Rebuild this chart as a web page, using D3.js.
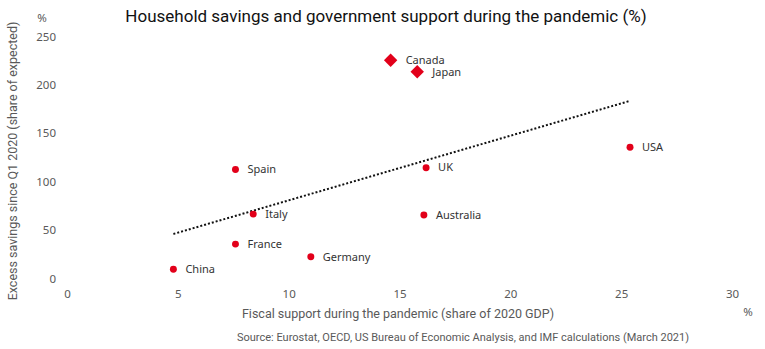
<!DOCTYPE html>
<html>
<head>
<meta charset="utf-8">
<script src="https://cdn.jsdelivr.net/npm/d3@7"></script>
<style>
  body { margin: 0; background: #fff; }
  svg text { font-family: "Noto Sans", "Open Sans", sans-serif; }
</style>
</head>
<body>
<svg id="chart" width="765" height="349"></svg>
<script>
// data
var countries = ['China', 'France', 'Italy', 'Spain', 'Germany', 'UK', 'Australia', 'USA', 'Canada', 'Japan'];
var fiscal = [4.8, 7.6, 8.4, 7.6, 11.0, 16.2, 16.1, 25.4, 14.6, 15.8];
var savings = [9, 35, 66, 112, 22, 114, 65, 135, 225, 213];
var diamonds = ['Canada', 'Japan'];
var trendX = [4.8, 25.4];
var trendY = [45.5, 183];
var xTicks = [0, 5, 10, 15, 20, 25, 30];
var yTicks = [0, 50, 100, 150, 200, 250];

var svg = d3.select('#chart');
var x = d3.scaleLinear().domain([0, 30]).range([67, 732]);
var y = d3.scaleLinear().domain([0, 250]).range([278, 36]);
var red = '#e2001a';
var grey = '#595959';

svg.append('text')
    .attr('x', 386).attr('y', 22)
    .attr('text-anchor', 'middle')
    .attr('font-size', 17)
    .attr('fill', '#111')
    .style('font-family', 'Roboto, sans-serif')
    .text('Household savings and government support during the pandemic (%)');

// axes, without domain lines
var xAxis = svg.append('g')
    .attr('transform', 'translate(0,' + 290 + ')')
    .call(d3.axisBottom(x).tickValues(xTicks).tickSize(0).tickPadding(0));
var yAxis = svg.append('g')
    .attr('transform', 'translate(' + 56 + ',0)')
    .call(d3.axisLeft(y).tickValues(yTicks).tickSize(0).tickPadding(0));
[xAxis, yAxis].forEach(function (g) {
    g.select('.domain').remove();
    g.selectAll('text')
        .attr('font-size', 11.5)
        .attr('fill', grey)
        .style('font-family', '"Noto Sans", sans-serif');
});
xAxis.selectAll('text').attr('dy', '0.71em');
yAxis.selectAll('text').attr('dy', '0.35em');

svg.append('text').attr('x', 42).attr('y', 22).attr('text-anchor', 'middle')
    .attr('font-size', 11.5).attr('fill', grey).text('%');
svg.append('text').attr('x', 748).attr('y', 316).attr('text-anchor', 'middle')
    .attr('font-size', 11.5).attr('fill', grey).text('%');

svg.append('text')
    .attr('transform', 'translate(17,161) rotate(-90)')
    .attr('text-anchor', 'middle')
    .attr('font-size', 12.5)
    .attr('fill', grey)
    .style('font-family', 'Roboto, sans-serif')
    .text('Excess savings since Q1 2020 (share of expected)');
svg.append('text')
    .attr('x', 398).attr('y', 318)
    .attr('text-anchor', 'middle')
    .attr('font-size', 12.5)
    .attr('fill', grey)
    .style('font-family', 'Roboto, sans-serif')
    .text('Fiscal support during the pandemic (share of 2020 GDP)');
svg.append('text')
    .attr('x', 463).attr('y', 341)
    .attr('text-anchor', 'middle')
    .attr('font-size', 11)
    .attr('fill', grey)
    .style('font-family', 'Roboto, sans-serif')
    .text('Source: Eurostat, OECD, US Bureau of Economic Analysis, and IMF calculations (March 2021)');

// trend line
svg.append('path')
    .datum(d3.zip(trendX, trendY))
    .attr('fill', 'none')
    .attr('stroke', '#111')
    .attr('stroke-width', 2)
    .attr('stroke-dasharray', '2,2')
    .attr('d', d3.line().x(function (d) { return x(d[0]); }).y(function (d) { return y(d[1]); }));

var pts = countries.map(function (c, i) {
    return { name: c, fx: fiscal[i], sv: savings[i], dia: diamonds.indexOf(c) >= 0 };
});
var g = svg.append('g');
g.selectAll('path.pt')
    .data(pts)
    .enter().append('path')
    .attr('class', 'pt')
    .attr('fill', red)
    .attr('d', function (d) {
        return d.dia ? d3.symbol().type(d3.symbolSquare).size(90)() : d3.symbol().type(d3.symbolCircle).size(38)();
    })
    .attr('transform', function (d) {
        var t = 'translate(' + x(d.fx) + ',' + y(d.sv) + ')';
        return d.dia ? t + ' rotate(45)' : t;
    });
g.selectAll('text.lbl')
    .data(pts)
    .enter().append('text')
    .attr('class', 'lbl')
    .attr('x', function (d) { return x(d.fx) + (d.dia ? 15 : 12); })
    .attr('y', function (d) { return y(d.sv); })
    .attr('dy', '0.35em')
    .attr('font-size', 11)
    .attr('fill', '#333')
    .text(function (d) { return d.name; });
</script>
</body>
</html>
